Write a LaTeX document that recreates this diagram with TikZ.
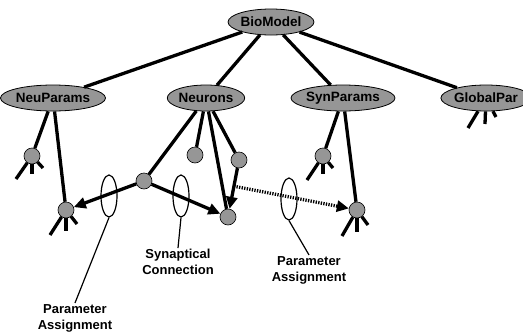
\documentclass[tikz,border=0pt]{standalone}
\usepackage{fontspec}
\setmainfont{Liberation Sans}
\usetikzlibrary{arrows.meta,calc,shapes.geometric}
\definecolor{nodegray}{RGB}{150,150,150}
\tikzset{
  x=1pt,y=-1pt,
  bignode/.style={ellipse,draw=black,line width=0.8pt,fill=nodegray,minimum width=73pt,minimum height=26pt,inner sep=0pt,font=\bfseries\fontsize{13.5}{14}\selectfont},
  dot/.style={circle,draw=black,line width=0.6pt,fill=nodegray,minimum size=16pt,inner sep=0pt},
  thickline/.style={line width=3.3pt},
  leg/.style={line width=3.3pt},
  arr/.style={line width=3.3pt,-{Triangle[length=12pt,width=11pt]}},
  dotarr/.style={line width=3.3pt,dash pattern=on 1.3pt off 1.3pt,-{Triangle[length=12pt,width=11pt]}},
  marker/.style={ellipse,draw=black,line width=1.2pt,minimum width=16pt,minimum height=42pt,inner sep=0pt},
  pointer/.style={line width=1.2pt},
  lbltext/.style={align=center,font=\bfseries\fontsize{13}{16}\selectfont,inner sep=1pt}
}
\begin{document}
\begin{tikzpicture}
\useasboundingbox (0,0) rectangle (523,333);
% main nodes
\node[bignode] (bio) at (271,22) {BioModel};
\node[bignode] (neup) at (53,98) {NeuParams};
\node[bignode] (neur) at (206,98) {Neurons};
\node[bignode] (synp) at (343,98) {SynParams};
\node[bignode] (glob) at (486,98) {GlobalPar};
% tree
\draw[thickline] (bio) -- (neup);
\draw[thickline] (bio) -- (neur);
\draw[thickline] (bio) -- (synp);
\draw[thickline] (bio) -- (glob);
% small dots
\node[dot] (A) at (32,156) {};
\node[dot] (B) at (66,210) {};
\node[dot] (C) at (144,181) {};
\node[dot] (D) at (195,155) {};
\node[dot] (E) at (239,160) {};
\node[dot] (F) at (228,217) {};
\node[dot] (H) at (323,156) {};
\node[dot] (G) at (357,210) {};
% legs
\coordinate (A1) at (16,179); \coordinate (A2) at (32,174); \coordinate (A3) at (43,168);
\draw[leg] (A) -- (A1); \draw[leg] (A) -- (A2); \draw[leg] (A) -- (A3);
\coordinate (B1) at (50,235); \coordinate (B2) at (66,231); \coordinate (B3) at (77,224);
\draw[leg] (B) -- (B1); \draw[leg] (B) -- (B2); \draw[leg] (B) -- (B3);
\coordinate (H1) at (307,180); \coordinate (H2) at (323,174); \coordinate (H3) at (333,168);
\draw[leg] (H) -- (H1); \draw[leg] (H) -- (H2); \draw[leg] (H) -- (H3);
\coordinate (G1) at (342,236); \coordinate (G2) at (357,232); \coordinate (G3) at (368,225);
\draw[leg] (G) -- (G1); \draw[leg] (G) -- (G2); \draw[leg] (G) -- (G3);
\coordinate (K1) at (468,128); \coordinate (K2) at (485,124); \coordinate (K3) at (496,117);
\draw[leg] (glob) -- (K1); \draw[leg] (glob) -- (K2); \draw[leg] (glob) -- (K3);
% connections
\draw[thickline] (neup) -- (A);
\draw[thickline] (neup) -- (B);
\draw[thickline] (neur) -- (C);
\draw[thickline] (neur) -- (D);
\draw[thickline] (neur) -- (E);
\draw[thickline] (neur) -- (F);
\draw[thickline] (synp) -- (H);
\draw[thickline] (synp) -- (G);
\draw[arr] (C) -- (B);
\draw[arr] (C) -- (F);
\draw[arr] (E) -- (F);
\coordinate (ds) at ($(E)!0.46!(F)$);
\draw[dotarr] (ds) -- (G);
% markers
\node[marker] (m1) at (109,196) {};
\node[marker] (m2) at (181,196) {};
\node[marker] (m3) at (289,199) {};
% labels
\node[lbltext] (l1) at (75,318) {Parameter\\Assignment};
\node[lbltext] (l2) at (178,262) {Synaptical\\Connection};
\node[lbltext] (l3) at (309,270) {Parameter\\Assignment};
\draw[pointer] (m1.south) -- (l1.north);
\draw[pointer] (m2.south) -- (l2.north);
\draw[pointer] (m3.south) -- (l3.north);
\end{tikzpicture}
\end{document}
